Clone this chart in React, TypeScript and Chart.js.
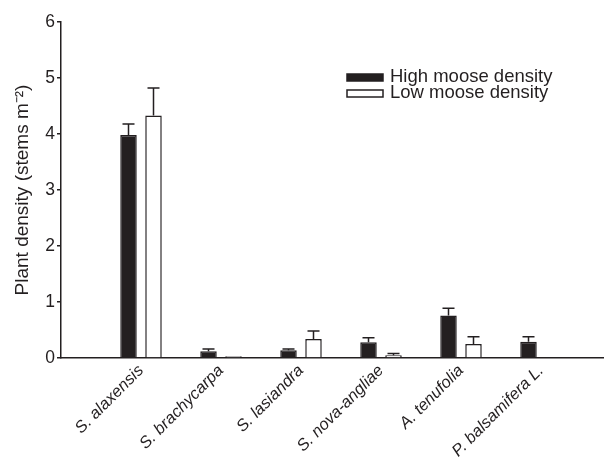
import React, { useEffect, useRef } from "react";
import { Chart, registerables } from "chart.js";

Chart.register(...registerables);

const categories = [
  "S. alaxensis",
  "S. brachycarpa",
  "S. lasiandra",
  "S. nova-angliae",
  "A. tenufolia",
  "P. balsamifera L.",
];
const highDensity = [3.98, 0.12, 0.14, 0.28, 0.76, 0.29];
const highError = [0.2, 0.04, 0.02, 0.08, 0.13, 0.09];
const lowDensity = [4.33, 0.03, 0.34, 0.05, 0.25, 0.01];
const lowError = [0.49, 0.0, 0.14, 0.03, 0.13, 0.0];
const yTicks = [0, 1, 2, 3, 4, 5, 6];
const seriesNames = ["High moose density", "Low moose density"];

const INK = "#231f20";
const FONT = "'Liberation Sans', Arial, Helvetica, sans-serif";

export default function App() {
  const ref = useRef<HTMLCanvasElement | null>(null);

  useEffect(() => {
    document.body.style.margin = "0";
    const canvas = ref.current;
    if (!canvas) return;

    const values = [highDensity, lowDensity];
    const errors = [highError, lowError];

    const errorBars = {
      id: "errorBars",
      afterDatasetsDraw(chart: any) {
        const { ctx } = chart;
        const y = chart.scales.y;
        ctx.save();
        ctx.strokeStyle = INK;
        ctx.lineWidth = 1.5;
        values.forEach((vals, di) => {
          const meta = chart.getDatasetMeta(di);
          meta.data.forEach((bar: any, i: number) => {
            const e = errors[di][i];
            if (!e) return;
            const yb = y.getPixelForValue(vals[i]);
            const yt = y.getPixelForValue(vals[i] + e);
            ctx.beginPath();
            ctx.moveTo(bar.x, yb);
            ctx.lineTo(bar.x, yt);
            ctx.moveTo(bar.x - 6, yt);
            ctx.lineTo(bar.x + 6, yt);
            ctx.stroke();
          });
        });
        ctx.restore();
      },
    };

    const legendBox = {
      id: "legendBox",
      afterDraw(chart: any) {
        const { ctx } = chart;
        ctx.save();
        ctx.font = `18.5px ${FONT}`;
        ctx.textBaseline = "alphabetic";
        const x0 = 347;
        const rows = [81.5, 97.5];
        seriesNames.forEach((name, i) => {
          const by = rows[i];
          ctx.lineWidth = 1.5;
          ctx.strokeStyle = INK;
          ctx.fillStyle = i === 0 ? INK : "#ffffff";
          ctx.fillRect(x0, by - 7.5, 36, 7);
          ctx.strokeRect(x0, by - 7.5, 36, 7);
          ctx.fillStyle = INK;
          ctx.fillText(name, x0 + 43, by);
        });
        ctx.restore();
      },
    };

    const chart = new Chart(canvas, {
      type: "bar",
      data: {
        datasets: [
          {
            label: seriesNames[0],
            data: highDensity.map((v, i) => ({ x: i + 1, y: v })),
            backgroundColor: INK,
            borderColor: INK,
            borderWidth: 1.5,
            barPercentage: 0.66,
            categoryPercentage: 0.625,
          },
          {
            label: seriesNames[1],
            data: lowDensity.map((v, i) => ({ x: i + 1, y: v })),
            backgroundColor: "#ffffff",
            borderColor: INK,
            borderWidth: 1.5,
            barPercentage: 0.66,
            categoryPercentage: 0.625,
          },
        ],
      },
      options: {
        animation: false,
        responsive: true,
        maintainAspectRatio: false,
        layout: { padding: { top: 22, right: 5, left: 0, bottom: 0 } },
        plugins: {
          legend: { display: false },
          tooltip: { enabled: false },
        },
        scales: {
          x: {
            type: "linear",
            offset: false,
            min: 0,
            max: 6.775,
            afterBuildTicks(scale: any) {
              scale.ticks = categories.map((_, i) => ({ value: i + 1 }));
            },
            afterFit(scale: any) {
              scale.height = 110;
            },
            grid: { display: false, offset: false },
            border: { display: true, color: INK, width: 1.5 },
            ticks: {
              autoSkip: false,
              minRotation: 45,
              maxRotation: 45,
              padding: -5,
              color: INK,
              font: { family: FONT, size: 16.5, style: "italic" },
              callback: (v: any) => categories[Number(v) - 1] ?? "",
            },
          },
          y: {
            min: 0,
            max: 6,
            afterBuildTicks(scale: any) {
              scale.ticks = yTicks.map((v) => ({ value: v }));
            },
            afterFit(scale: any) {
              scale.width = 61;
            },
            grid: {
              drawOnChartArea: false,
              drawTicks: true,
              tickLength: 4,
              color: INK,
              lineWidth: 1.5,
            },
            border: { display: true, color: INK, width: 1.5 },
            ticks: {
              padding: 2,
              color: INK,
              font: { family: FONT, size: 17.5 },
            },
            title: {
              display: true,
              text: "Plant density (stems m\u207B\u00B2)",
              color: INK,
              font: { family: FONT, size: 19 },
              padding: { top: 11, bottom: 0 },
            },
          },
        },
      },
      plugins: [errorBars, legendBox],
    });

    return () => chart.destroy();
  }, []);

  return (
    <div style={{ position: "relative", width: 608, height: 468 }}>
      <canvas ref={ref} />
    </div>
  );
}
